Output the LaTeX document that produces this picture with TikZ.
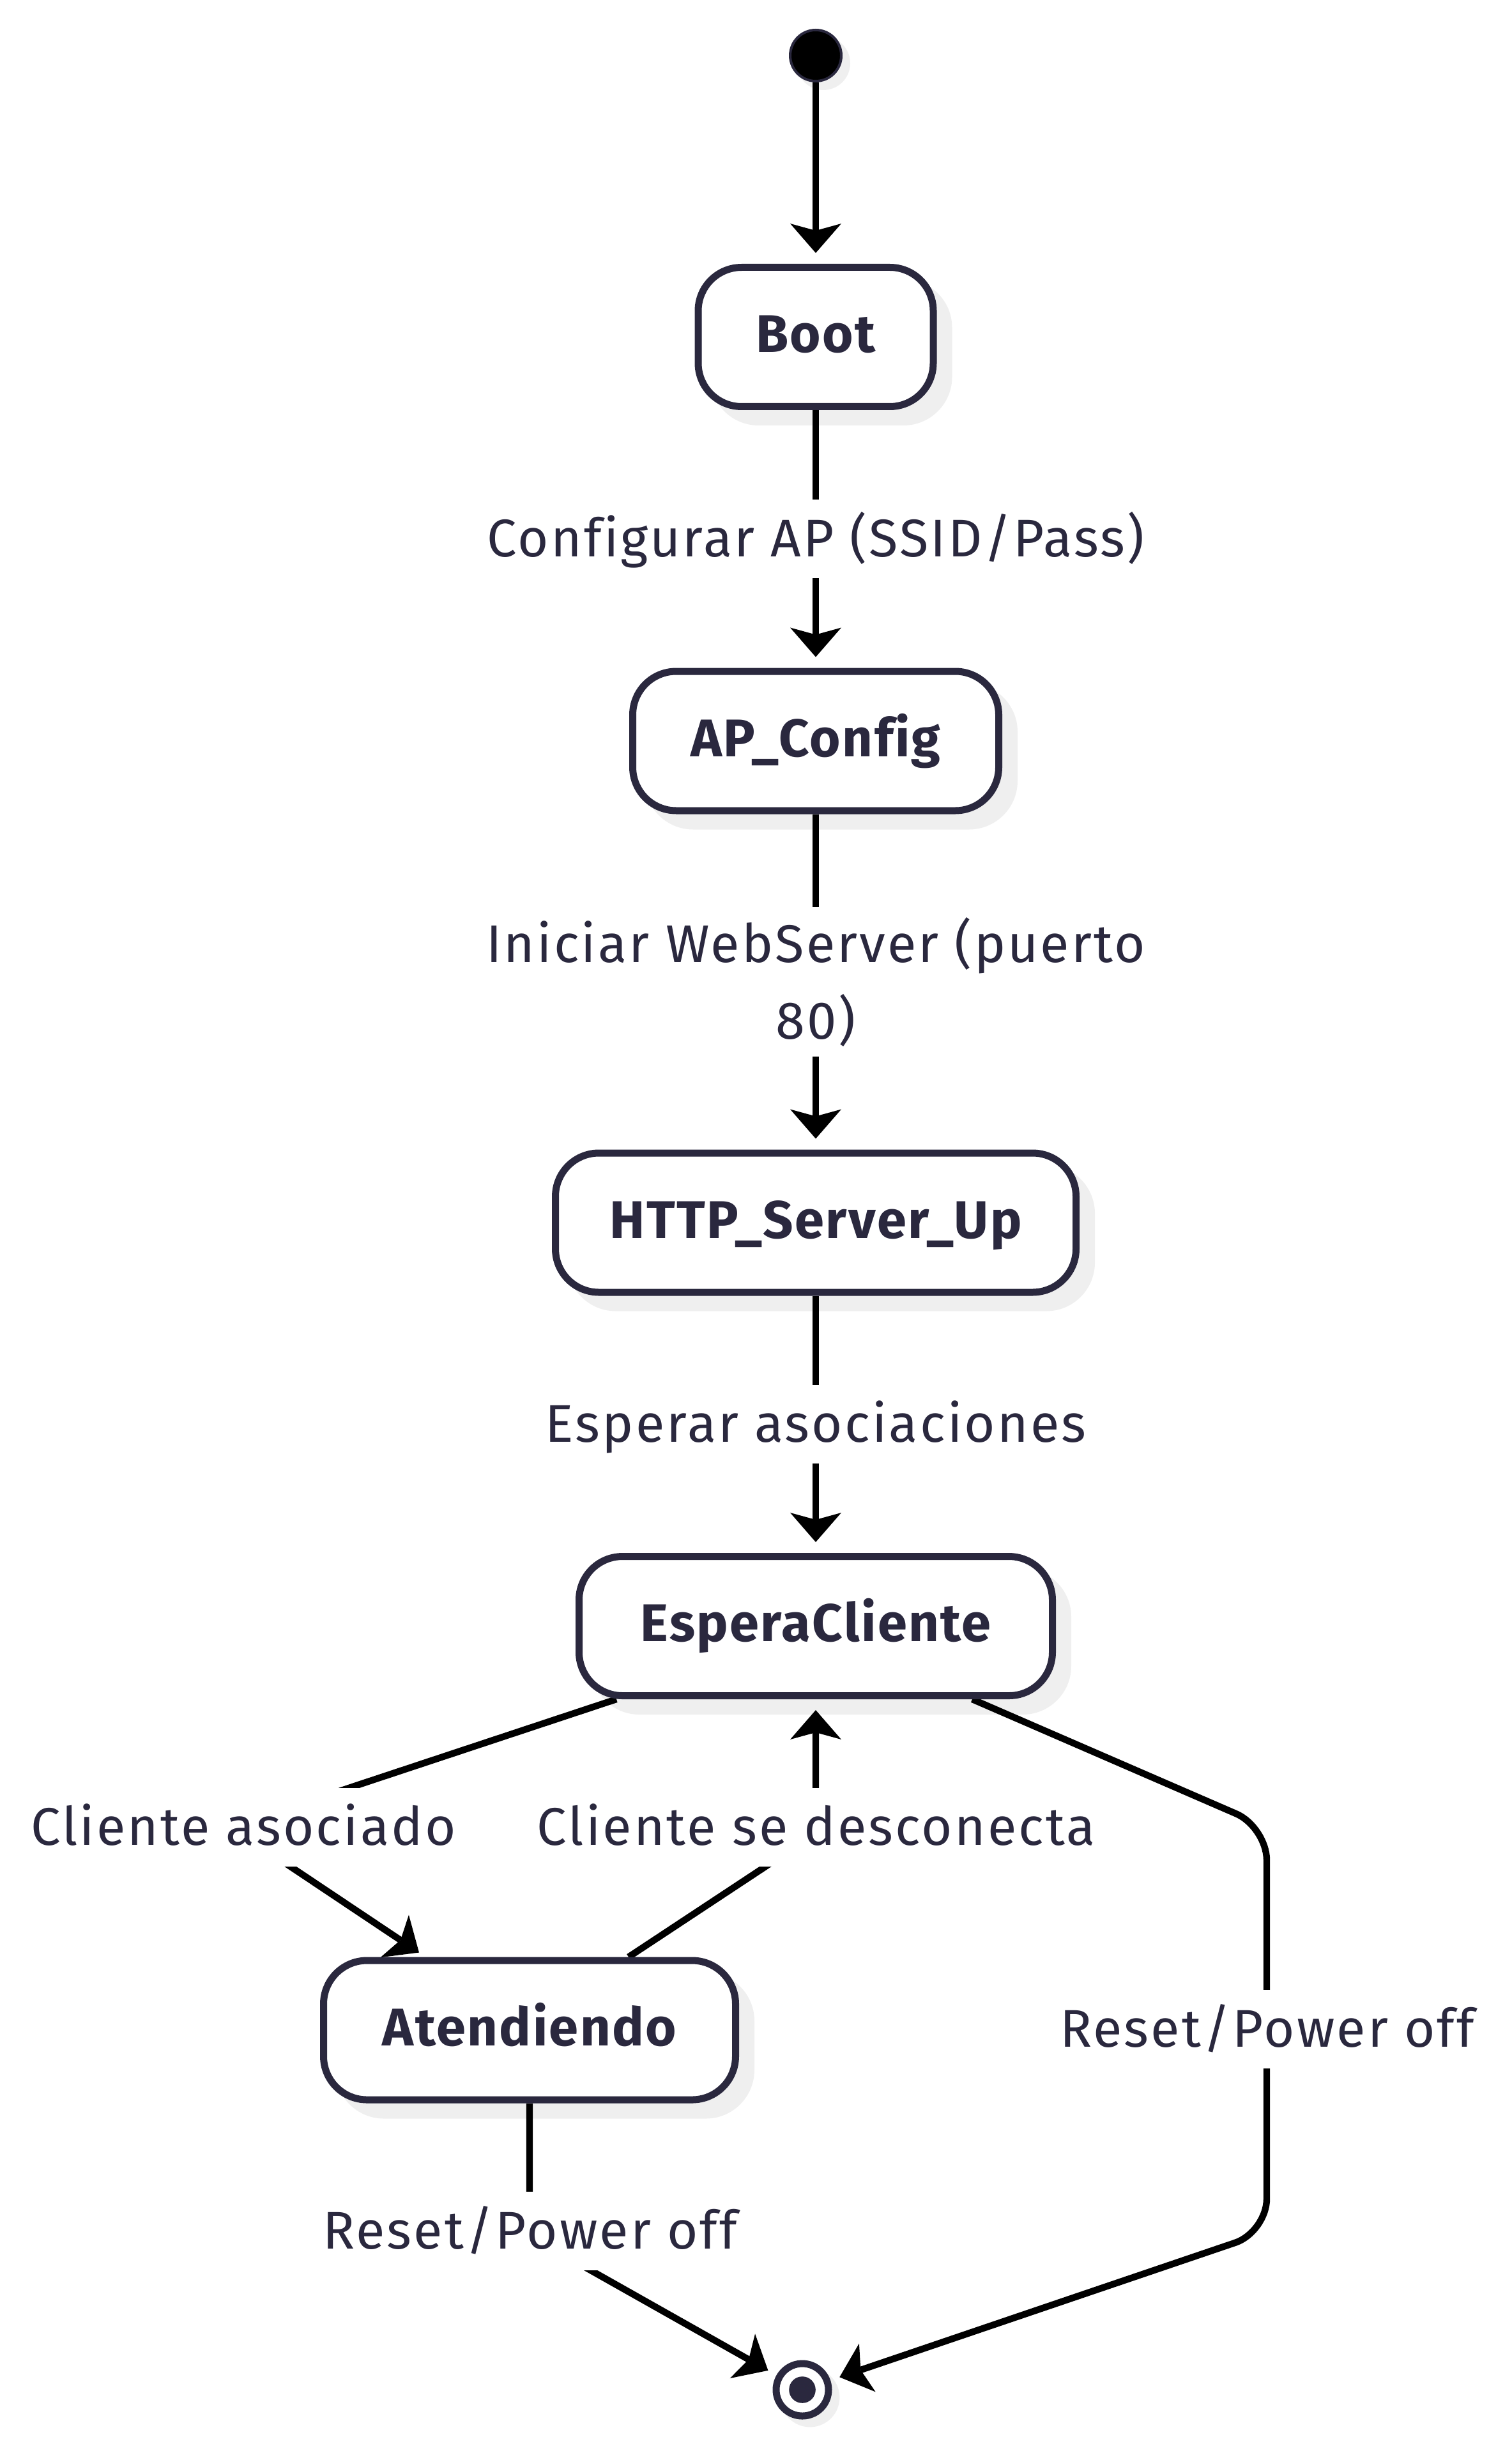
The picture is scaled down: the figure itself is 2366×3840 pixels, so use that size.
\documentclass[tikz,border=0pt]{standalone}
\usepackage{fontspec}
\setmainfont{Fira Sans}[LetterSpace=3.8, Ligatures=NoCommon]
\usetikzlibrary{arrows.meta,calc}
\definecolor{navy}{HTML}{2A283E}
\definecolor{shadowc}{HTML}{EFEFEF}
\pgfdeclarelayer{shadowlayer}
\pgfdeclarelayer{edgelayer}
\pgfsetlayers{shadowlayer,edgelayer,main}
\begin{document}
\begin{tikzpicture}[x=0.25pt,y=-0.25pt,
  every node/.style={font=\fontsize{20.75pt}{30pt}\selectfont, text=navy},
  state/.style={draw=navy, line width=2.75pt, fill=white, rounded corners=17pt,
    minimum height=54.5pt, inner sep=0pt, text height=16.25pt, text depth=4.25pt,
    font=\fontsize{20.75pt}{30pt}\selectfont\bfseries\addfontfeatures{LetterSpace=3.0}},
  lab/.style={fill=white, inner xsep=2pt, inner ysep=5pt, text height=17.25pt, text depth=3.5pt},
  labtwo/.style={fill=white, inner xsep=2pt, inner ysep=4pt, align=center},
  arr/.style={draw=black, line width=2.6pt,
    -{Stealth[length=11.5pt, width=20pt, inset=2.75pt, line width=0pt]}},
  shd/.style={fill=shadowc}
]
\useasboundingbox (0,0) rectangle (2366,3840);

% states
\node[circle, draw=navy, fill=black, line width=1pt, minimum size=20pt, inner sep=0pt] (start) at (1277,87) {};
\node[state, minimum width=92pt] (boot) at (1277,527.5) {Boot};
\node[state, minimum width=143.25pt] (ap) at (1277,1160) {AP\_Config};
\node[state, minimum width=203.75pt] (http) at (1277,1914) {HTTP\_Server\_Up};
\node[state, minimum width=185.25pt] (esp) at (1277,2545.5) {EsperaCliente};
\node[state, minimum width=161.25pt] (atend) at (829,3178) {Atendiendo};
\node[circle, draw=navy, fill=white, line width=2.75pt, minimum size=20.5pt, inner sep=0pt] (endc) at (1256,3741) {};
\fill[navy] (endc.center) circle[radius=5.2pt];

% labels
\node[lab] (l1) at (1277,843.5) {Configurar AP (SSID/Pass)};
\node[labtwo] (l2) at (1277,1537) {Iniciar WebServer (puerto\\80)};
\node[lab] (l3) at (1277,2229.5) {Esperar asociaciones};
\node[lab] (l4) at (381,2860.5) {Cliente asociado};
\node[lab] (l5) at (1278,2860.5) {Cliente se desconecta};
\node[lab] (l6) at (1984,3176.5) {Reset/Power off};
\node[lab] (l7) at (830,3492.5) {Reset/Power off};

% bend points
\coordinate (b4) at (362,2860);
\coordinate (b5) at (1277,2870);
\coordinate (c6a) at (1983,2860);
\coordinate (c6b) at (1983,3494);
\coordinate (b7) at (829,3500);

% shadows
\begin{pgfonlayer}{shadowlayer}
\foreach \n in {boot,ap,http,esp,atend}{
  \fill[shd, rounded corners=19pt] ([shift={(24,24)}]\n.south west) rectangle ([shift={(24,24)}]\n.north east);
}
\fill[shd] ([shift={(12,12)}]start.center) circle[radius=10.5pt];
\fill[shd] ([shift={(12,12)}]endc.center) circle[radius=11.6pt];
\end{pgfonlayer}

% edges
\begin{pgfonlayer}{edgelayer}
\draw[arr, shorten >=4.25pt] (start) -- (boot);
\draw[arr, shorten >=4.25pt] (boot) -- (ap);
\draw[arr, shorten >=4.25pt] (ap) -- (http);
\draw[arr, shorten >=4.25pt] (http) -- (esp);
\draw[arr] ([shift={(64,0)}]esp.south west) -- (b4) -- ([shift={(155,-7)}]atend.north west);
\draw[arr, shorten >=4.25pt] ([shift={(483,0)}]atend.north west) -- (b5) -- (esp.south);
\draw[arr, rounded corners=13pt, shorten >=3.75pt] ([shift={(-131,0)}]esp.south east) -- (c6a) -- (c6b) -- (endc);
\draw[arr, shorten >=3.75pt] (atend) -- (b7) -- (endc);
\end{pgfonlayer}
\end{tikzpicture}
\end{document}
